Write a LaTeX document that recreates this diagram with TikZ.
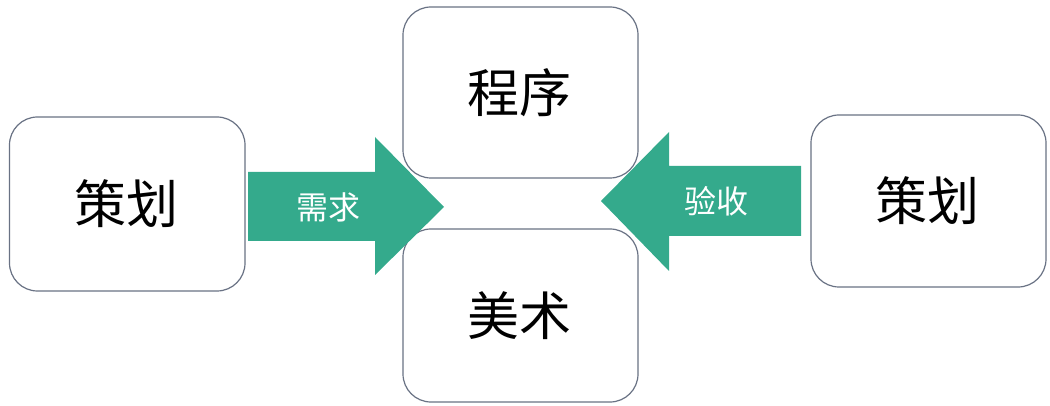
\documentclass[tikz,border=0pt]{standalone}
\usepackage{fontspec}
\setmainfont{Noto Sans CJK SC}
\definecolor{arrowgreen}{RGB}{52,170,140}
\definecolor{boxline}{RGB}{105,114,132}
\begin{document}
\begin{tikzpicture}[x=1pt,y=-1pt,
  box/.style={draw=boxline,line width=1.2pt,rounded corners=28pt,fill=white},
  boxtext/.style={font=\fontsize{52}{52}\selectfont,text=black},
  arrowtext/.style={font=\fontsize{32}{32}\selectfont,text=white},
  blockarrow/.style={fill=arrowgreen,draw=none}]
\useasboundingbox (0,0) rectangle (1050,406);
% boxes
\draw[box] (9.5,117) rectangle (245,291);
\draw[box] (403,7) rectangle (638,178);
\draw[box] (403,229) rectangle (638,402);
\draw[box] (811,115) rectangle (1046,287);
\node[boxtext] (plan1) at (126,204) {策划};
\node[boxtext] (prog) at (519,92.5) {程序};
\node[boxtext] (art) at (519,316) {美术};
\node[boxtext] (plan2) at (927,201) {策划};
% arrows
\fill[blockarrow] (248,172) -- (375,172) -- (375,137) -- (444,207) -- (375,275) -- (375,241) -- (248,241) -- cycle;
\fill[blockarrow] (801,166) -- (669,166) -- (669,132) -- (601,201) -- (669,271) -- (669,236) -- (801,236) -- cycle;
\node[arrowtext] (req) at (328,207) {需求};
\node[arrowtext] (acc) at (716,201) {验收};
\end{tikzpicture}
\end{document}
